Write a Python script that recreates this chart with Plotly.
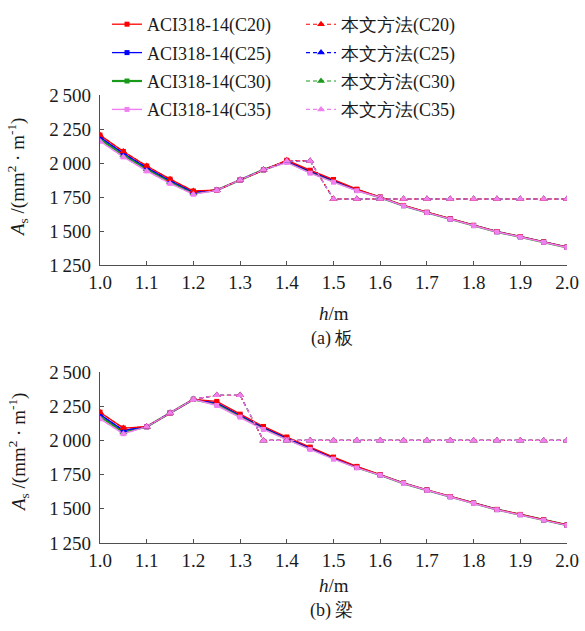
import plotly.graph_objects as go

# ---------------- data ----------------
h = [1.0, 1.05, 1.1, 1.15, 1.2, 1.25, 1.3, 1.35, 1.4, 1.45, 1.5,
     1.55, 1.6, 1.65, 1.7, 1.75, 1.8, 1.85, 1.9, 1.95, 2.0]

grades = ["C20", "C25", "C30", "C35"]

# (a) slab - ACI318-14
slab_aci_c20 = [2205, 2085, 1978, 1881, 1794, 1800, 1875, 1950, 2020, 1947, 1879,
                1808, 1750, 1688, 1638, 1590, 1542, 1496, 1459, 1420, 1382]
slab_aci_c25 = [2190, 2072, 1966, 1871, 1786, 1800, 1875, 1950, 2014, 1940, 1873,
                1804, 1748, 1687, 1637, 1589, 1541, 1495, 1458, 1419, 1381]
slab_aci_c30 = [2175, 2058, 1954, 1860, 1778, 1800, 1875, 1950, 2009, 1932, 1866,
                1800, 1747, 1686, 1636, 1588, 1540, 1494, 1457, 1418, 1380]
slab_aci_c35 = [2160, 2045, 1942, 1850, 1770, 1800, 1875, 1950, 2004, 1925, 1859,
                1796, 1746, 1685, 1635, 1587, 1539, 1493, 1456, 1417, 1379]
# (a) slab - proposed method
slab_m_c20 = [2205, 2085, 1978, 1881, 1794, 1800, 1875, 1950, 2020, 2015, 1735,
              1735, 1735, 1735, 1735, 1735, 1735, 1735, 1735, 1735, 1735]
slab_m_c25 = [2190, 2072, 1966, 1871, 1786, 1800, 1875, 1950, 2015, 2015, 1735,
              1735, 1735, 1735, 1735, 1735, 1735, 1735, 1735, 1735, 1735]
slab_m_c30 = [2175, 2058, 1954, 1860, 1778, 1800, 1875, 1950, 2015, 2015, 1735,
              1735, 1735, 1735, 1735, 1735, 1735, 1735, 1735, 1735, 1735]
slab_m_c35 = [2160, 2045, 1942, 1850, 1770, 1800, 1875, 1950, 2015, 2015, 1735,
              1735, 1735, 1735, 1735, 1735, 1735, 1735, 1735, 1735, 1735]

# (b) beam - ACI318-14
beam_aci_c20 = [2206, 2090, 2100, 2200, 2300, 2285, 2192, 2102, 2025, 1951, 1878,
                1810, 1750, 1688, 1638, 1590, 1542, 1496, 1459, 1420, 1382]
beam_aci_c25 = [2190, 2073, 2100, 2200, 2300, 2275, 2185, 2095, 2018, 1945, 1872,
                1806, 1748, 1687, 1637, 1589, 1541, 1495, 1458, 1419, 1381]
beam_aci_c30 = [2175, 2060, 2100, 2200, 2300, 2265, 2178, 2088, 2011, 1940, 1867,
                1802, 1747, 1686, 1636, 1588, 1540, 1494, 1457, 1418, 1380]
beam_aci_c35 = [2158, 2049, 2100, 2200, 2300, 2255, 2170, 2080, 2005, 1934, 1863,
                1799, 1746, 1685, 1635, 1587, 1539, 1493, 1456, 1417, 1379]
# (b) beam - proposed method
beam_m_c20 = [2206, 2090, 2100, 2200, 2300, 2330, 2330, 2000, 2000, 2000, 2000,
              2000, 2000, 2000, 2000, 2000, 2000, 2000, 2000, 2000, 2000]
beam_m_c25 = [2190, 2073, 2100, 2200, 2300, 2330, 2330, 2000, 2000, 2000, 2000,
              2000, 2000, 2000, 2000, 2000, 2000, 2000, 2000, 2000, 2000]
beam_m_c30 = [2175, 2060, 2100, 2200, 2300, 2330, 2330, 2000, 2000, 2000, 2000,
              2000, 2000, 2000, 2000, 2000, 2000, 2000, 2000, 2000, 2000]
beam_m_c35 = [2158, 2049, 2100, 2200, 2300, 2330, 2330, 2000, 2000, 2000, 2000,
              2000, 2000, 2000, 2000, 2000, 2000, 2000, 2000, 2000, 2000]

x_ticks = [1.0, 1.1, 1.2, 1.3, 1.4, 1.5, 1.6, 1.7, 1.8, 1.9, 2.0]
x_ticktext = ["1.0", "1.1", "1.2", "1.3", "1.4", "1.5", "1.6", "1.7", "1.8", "1.9", "2.0"]
y_ticks = [1250, 1500, 1750, 2000, 2250, 2500]
y_ticktext = ["1\u2009250", "1\u2009500", "1\u2009750", "2\u2009000", "2\u2009250", "2\u2009500"]

aci_label = "ACI318-14"
method_label = "本文方法"
captions = ["(a) 板", "(b) 梁"]

# ---------------- style ----------------
colors = ["#ff0000", "#0000ff", "#1a9a1a", "#f080f0"]
widths = [1.3, 1.3, 2.2, 1.4]
draw_order = [2, 1, 0, 3]   # green at the bottom, pink on top
FONT = "Liberation Serif"
W, H = 585, 631
ML, MR = 100, 18

slab_aci = [slab_aci_c20, slab_aci_c25, slab_aci_c30, slab_aci_c35]
slab_m = [slab_m_c20, slab_m_c25, slab_m_c30, slab_m_c35]
beam_aci = [beam_aci_c20, beam_aci_c25, beam_aci_c30, beam_aci_c35]
beam_m = [beam_m_c20, beam_m_c25, beam_m_c30, beam_m_c35]

fig = go.Figure()

for k in draw_order:
    g = grades[k]
    for (xa, ya, data, show) in [("x", "y", slab_aci, True), ("x2", "y2", beam_aci, False)]:
        fig.add_trace(go.Scatter(
            x=h, y=data[k], xaxis=xa, yaxis=ya, mode="lines+markers",
            name=f"{aci_label}({g})", legend="legend", legendgroup=f"a{g}",
            legendrank=100 + k, showlegend=show,
            line=dict(color=colors[k], width=widths[k]),
            marker=dict(symbol="square", size=5, color=colors[k]),
        ))
for k in draw_order:
    g = grades[k]
    for (xa, ya, data, show) in [("x", "y", slab_m, True), ("x2", "y2", beam_m, False)]:
        fig.add_trace(go.Scatter(
            x=h, y=data[k], xaxis=xa, yaxis=ya, mode="lines+markers",
            name=f"{method_label}({g})", legend="legend2", legendgroup=f"m{g}",
            legendrank=200 + k, showlegend=show,
            line=dict(color=colors[k], width=1.1, dash="4px,3px"),
            marker=dict(symbol="triangle-up", size=7, color=colors[k]),
        ))

def py(px):
    return 1 - px / H

def pxx(px):
    return (px - ML) / (W - ML - MR)

axis_common = dict(
    showline=True, linecolor="#505050", linewidth=1.2, mirror=False,
    ticks="inside", ticklen=4, tickcolor="#505050", tickwidth=1.2,
    showgrid=False, zeroline=False, automargin=False,
    tickfont=dict(family=FONT, size=19, color="#1a1a1a"),
)

fig.update_layout(
    width=W, height=H,
    margin=dict(l=ML, r=MR, t=0, b=0, autoexpand=False),
    paper_bgcolor="white", plot_bgcolor="white",
    font=dict(family=FONT, size=18, color="#1a1a1a"),
    xaxis=dict(axis_common, domain=[0, 1], anchor="y", range=[1.0, 2.0],
               tickvals=x_ticks, ticktext=x_ticktext),
    yaxis=dict(axis_common, domain=[py(265), py(95)], anchor="x", range=[1250, 2500],
               tickvals=y_ticks, ticktext=y_ticktext, ticklabelstandoff=4),
    xaxis2=dict(axis_common, domain=[0, 1], anchor="y2", range=[1.0, 2.0],
                tickvals=x_ticks, ticktext=x_ticktext),
    yaxis2=dict(axis_common, domain=[py(543), py(372)], anchor="x2", range=[1250, 2500],
                tickvals=y_ticks, ticktext=y_ticktext, ticklabelstandoff=4),
    legend=dict(x=pxx(107), y=py(6), xanchor="left", yanchor="top",
                bgcolor="rgba(0,0,0,0)", itemwidth=30, tracegroupgap=2,
                font=dict(family=FONT, size=18, color="#1a1a1a")),
    legend2=dict(x=pxx(301), y=py(6), xanchor="left", yanchor="top",
                 bgcolor="rgba(0,0,0,0)", itemwidth=30, tracegroupgap=2,
                 font=dict(family=FONT, size=18, color="#1a1a1a")),
)

ytitle = "<i>A</i><sub>s</sub> /(mm<sup>2</sup> · m<sup>-1</sup>)"
for (yc, hc) in [(178, 313), (453, 585)]:
    fig.add_annotation(text=ytitle, xref="paper", yref="paper",
                       x=pxx(18), y=py(yc), xanchor="center", yanchor="middle",
                       textangle=-90, showarrow=False,
                       font=dict(family=FONT, size=19, color="#1a1a1a"))
    fig.add_annotation(text="<i>h</i>/m", xref="paper", yref="paper",
                       x=pxx(334), y=py(hc), xanchor="center", yanchor="middle",
                       showarrow=False, font=dict(family=FONT, size=19, color="#1a1a1a"))
fig.add_annotation(text=captions[0], xref="paper", yref="paper",
                   x=pxx(332), y=py(338), xanchor="center", yanchor="middle",
                   showarrow=False, font=dict(family=FONT, size=18, color="#1a1a1a"))
fig.add_annotation(text=captions[1], xref="paper", yref="paper",
                   x=pxx(332), y=py(610), xanchor="center", yanchor="middle",
                   showarrow=False, font=dict(family=FONT, size=18, color="#1a1a1a"))

fig.write_html("out.html", config={"displayModeBar": False},
               post_script="document.body.style.margin='0px';")
